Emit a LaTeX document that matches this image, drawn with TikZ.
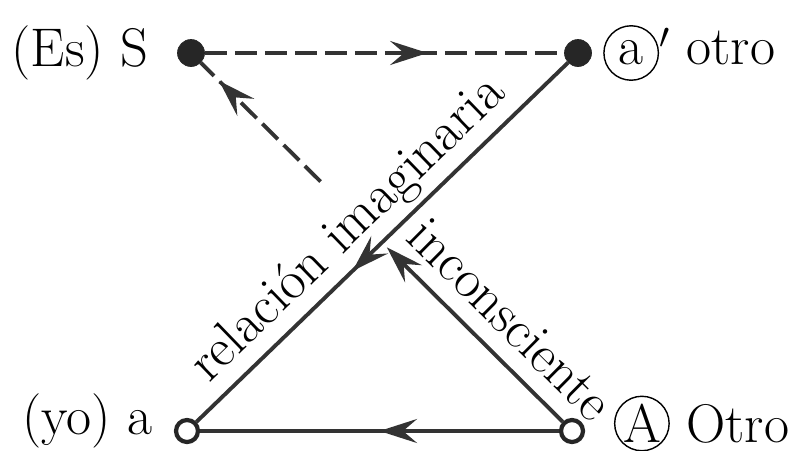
\documentclass[tikz,border=0pt]{standalone}
\usepackage{tikz}
\usetikzlibrary{arrows.meta, positioning, decorations.markings, calc}

\newcommand{\circledletter}[1]{\tikz[baseline=(ch.base)]\node[circle, draw, line width=0.8pt, minimum size=1em, inner sep=0pt] (ch) {#1};}

\begin{document}
\begin{tikzpicture}[
    x=0.02cm, y=-0.02cm,
    font=\fontsize{31}{36}\selectfont,
    dot/.style={
      circle,
      fill=black!85,
      draw=black!85,
      minimum size=5.4mm,
      inner sep=0pt
    },
    hole/.style={
      circle,
      draw=black!85,
      fill=white,
      line width=2.4pt,
      minimum size=4.4mm,
      inner sep=0pt
    },
    link/.style={
      line width=2.2pt,
      draw=black!80
    },
    dashlink/.style={
      link,
      dash pattern=on 4.4mm off 1.6mm
    },
    tip/.style={
      -{Stealth[length=7.5mm, width=4.8mm, inset=2.8mm]}
    },
    midtip/.style={
      postaction={decorate},
      decoration={markings,
        mark=at position #1 with {\arrow{Stealth[length=7.5mm, width=4.8mm, inset=2.8mm]}}}
    },
    tag/.style={
      inner sep=2pt
    }
  ]

    \useasboundingbox (0,0) rectangle (808,450);

    % The four places
    \node[dot] (S) at (191,53) {};
    \node[dot] (ap) at (578,53) {};
    \node[hole] (a) at (187,431) {};
    \node[hole] (A) at (572,431) {};

    \node[tag, left=5mm of S] (lblS) {(Es) S};
    \node[tag, right=1.5mm of ap] (lblap) {\circledletter{a}$'$ otro};
    \node[tag, left=3.5mm of a, yshift=2mm] (lbla) {(yo) a};
    \node[tag, right=5mm of A, yshift=1.5mm] (lblA) {\circledletter{A} Otro};

    % Arrows
    \draw[dashlink, midtip=0.62] (S) -- (ap);
    \draw[link, midtip=0.58] (ap) -- (a);
    \draw[link, midtip=0.5] (A) -- (a);

    \coordinate (cut1) at ($(A)!0.486!(S)$);
    \coordinate (cut2) at ($(A)!0.66!(S)$);
    \draw[link, tip] (A) -- (cut1);
    \draw[dashlink, midtip=0.85] (cut2) -- (S);

    % Annotations
    \path (a) -- (ap) node[sloped, above, pos=0.47, inner sep=4pt] (rel) {relación imaginaria};
    \path (S) -- (A) node[sloped, above, pos=0.785, inner sep=10pt] (inc) {inconsciente};

  \end{tikzpicture}
\end{document}
